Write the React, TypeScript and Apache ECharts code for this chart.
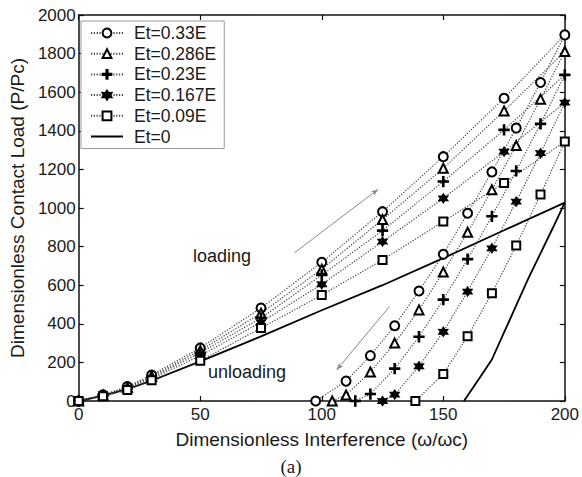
import React, { useEffect, useRef } from 'react';
import * as echarts from 'echarts';

const seriesNames = ['Et=0.33E', 'Et=0.286E', 'Et=0.23E', 'Et=0.167E', 'Et=0.09E', 'Et=0'];
const xTicks = [0, 50, 100, 150, 200];
const yTicks = [0, 200, 400, 600, 800, 1000, 1200, 1400, 1600, 1800, 2000];

// loading branch (shared interference values)
const loadingX = [0, 10, 20, 30, 50, 75, 100, 125, 150, 175, 200];
const loading033 = [0, 32, 75, 135, 275, 482, 719, 981, 1266, 1569, 1897];
const loading0286 = [0, 30, 70, 128, 262, 455, 683, 940, 1206, 1503, 1811];
const loading023 = [0, 28, 66, 122, 250, 430, 653, 883, 1137, 1405, 1690];
const loading0167 = [0, 26, 62, 115, 235, 408, 605, 826, 1050, 1292, 1546];
const loading009 = [0, 24, 57, 108, 208, 378, 549, 731, 930, 1130, 1344];
const loading0 = [0, 28, 62, 105, 205, 335, 470, 600, 740, 885, 1028];

// unloading branch
const unloadX033 = [190, 180, 170, 160, 150, 140, 130, 120, 110, 97.5];
const unload033 = [1650, 1414, 1187, 973, 760, 570, 390, 235, 103, 0];
const unloadX0286 = [190, 180, 170, 160, 150, 140, 130, 120, 110, 104.3];
const unload0286 = [1564, 1324, 1094, 874, 668, 472, 300, 150, 31, 0];
const unloadX023 = [190, 180, 170, 160, 150, 140, 130, 120, 113.8];
const unload023 = [1436, 1192, 957, 735, 525, 333, 168, 36, 0];
const unloadX0167 = [190, 180, 170, 160, 150, 140, 130, 125];
const unload0167 = [1284, 1033, 791, 567, 359, 180, 33, 0];
const unloadX009 = [190, 180, 170, 160, 150, 138.5];
const unload009 = [1070, 806, 558, 335, 140, 0];
const unloadX0 = [195, 190, 185, 180, 175, 170, 165, 158.5];
const unload0 = [895, 765, 635, 495, 355, 215, 120, 0];

// annotation arrows [x, load] start -> end
const loadingArrow = [[88.8, 768], [123.2, 1097]];
const unloadingArrow = [[127.9, 490], [106.1, 161]];

const plusPath = 'path://M4.35,0H5.65V4.35H10V5.65H5.65V10H4.35V5.65H0V4.35H4.35Z';
const starPath =
  'path://M5,0L6.4,2.58L9.33,2.5L7.8,5L9.33,7.5L6.4,7.42L5,10L3.6,7.42L0.67,7.5L2.2,5L0.67,2.5L3.6,2.58Z';

const FONT = '"Liberation Sans", Arial, sans-serif';
const TEXT = '#1a1a1a';

function pts(lx: number[], ly: number[], ux: number[], uy: number[]) {
  return lx.map((x, i) => [x, ly[i]]).concat(ux.map((x, i) => [x, uy[i]]));
}

export default function App() {
  const ref = useRef<HTMLDivElement>(null);
  useEffect(() => {
    if (!ref.current) return;
    const chart = echarts.init(ref.current, undefined, { renderer: 'svg' });
    const dotted = { color: '#444', width: 1.2, type: [1.2, 1.6] as any };
    const mk = { color: '#000', borderColor: '#000', borderWidth: 1.3 };
    const markerSeries = [
      { data: pts(loadingX, loading033, unloadX033, unload033), symbol: 'emptyCircle', size: 9 },
      { data: pts(loadingX, loading0286, unloadX0286, unload0286), symbol: 'emptyTriangle', size: 9 },
      { data: pts(loadingX, loading023, unloadX023, unload023), symbol: plusPath, size: 10 },
      { data: pts(loadingX, loading0167, unloadX0167, unload0167), symbol: starPath, size: 9 },
      { data: pts(loadingX, loading009, unloadX009, unload009), symbol: 'emptyRect', size: 8 },
    ];
    const series: any[] = markerSeries.map((s, i) => ({
      name: seriesNames[i],
      type: 'line',
      data: s.data,
      symbol: s.symbol,
      symbolSize: s.size,
      showSymbol: true,
      lineStyle: dotted,
      itemStyle: mk,
      emphasis: { disabled: true },
      z: 3,
    }));
    series.push({
      name: seriesNames[5],
      type: 'line',
      data: pts(loadingX, loading0, unloadX0, unload0),
      symbol: 'none',
      lineStyle: { color: '#000', width: 1.8, type: 'solid' },
      itemStyle: { color: '#000' },
      emphasis: { disabled: true },
      z: 2,
      markLine: {
        silent: true,
        symbol: ['none', 'arrow'],
        symbolSize: [4, 7],
        lineStyle: { color: '#888', width: 1, type: 'solid' },
        label: { show: false },
        emphasis: { disabled: true },
        data: [
          [{ coord: loadingArrow[0] }, { coord: loadingArrow[1] }],
          [{ coord: unloadingArrow[0] }, { coord: unloadingArrow[1] }],
        ],
      },
    });

    const axisLine = { onZero: false, lineStyle: { color: '#111', width: 1.5 } };
    const axisTick = { inside: true, length: 5, lineStyle: { color: '#111', width: 1.2 } };
    const labelStyle = { fontFamily: FONT, fontSize: 17, color: TEXT, formatter: (v: number) => String(v) };

    chart.setOption({
      animation: false,
      backgroundColor: '#fff',
      grid: { left: 74, right: 15, top: 15, bottom: 76, containLabel: false },
      xAxis: [
        {
          type: 'value', min: xTicks[0], max: xTicks[xTicks.length - 1], interval: 50, position: 'bottom',
          name: 'Dimensionless Interference (\u03c9/\u03c9c)', nameLocation: 'middle', nameGap: 29,
          nameTextStyle: { fontFamily: FONT, fontSize: 19, color: TEXT },
          axisLine, axisTick, axisLabel: { ...labelStyle, margin: 5 }, splitLine: { show: false },
        },
        {
          type: 'value', min: 0, max: 200, interval: 50, position: 'top',
          axisLine, axisTick, axisLabel: { show: false }, splitLine: { show: false },
        },
      ],
      yAxis: [
        {
          type: 'value', min: yTicks[0], max: yTicks[yTicks.length - 1], interval: 200, position: 'left',
          name: 'Dimensionless Contact Load (P/Pc)', nameLocation: 'middle', nameGap: 45,
          nameTextStyle: { fontFamily: FONT, fontSize: 19, color: TEXT },
          axisLine, axisTick, axisLabel: { ...labelStyle, margin: 3 }, splitLine: { show: false },
        },
        {
          type: 'value', min: 0, max: 2000, interval: 200, position: 'right',
          axisLine, axisTick, axisLabel: { show: false }, splitLine: { show: false },
        },
      ],
      legend: {
        orient: 'vertical', left: 81, top: 21,
        backgroundColor: '#fff', borderColor: '#999', borderWidth: 1, borderRadius: 0,
        padding: [3, 8, 3, 9], itemWidth: 32, itemHeight: 11, itemGap: 2.7,
        textStyle: { fontFamily: FONT, fontSize: 17.5, color: TEXT, lineHeight: 18, padding: [0, 0, 0, 6] },
        selectedMode: false,
        data: [
          ...seriesNames.slice(0, 5),
          { name: seriesNames[5], itemStyle: { color: 'rgba(0,0,0,0)', borderWidth: 0 } },
        ],
      },
      graphic: [
        { type: 'text', left: 193, top: 247, style: { text: 'loading', font: `18px ${FONT}`, fill: TEXT } },
        { type: 'text', left: 208, top: 363, style: { text: 'unloading', font: `18px ${FONT}`, fill: TEXT } },
        {
          type: 'text', x: 291, y: 466,
          style: { text: '(a)', font: '19px "Liberation Serif", "Times New Roman", serif', fill: TEXT, align: 'center', verticalAlign: 'middle' },
        },
      ],
      series,
    });
    return () => chart.dispose();
  }, []);
  return <div ref={ref} style={{ position: 'fixed', left: 0, top: 0, width: 582, height: 477 }} />;
}
